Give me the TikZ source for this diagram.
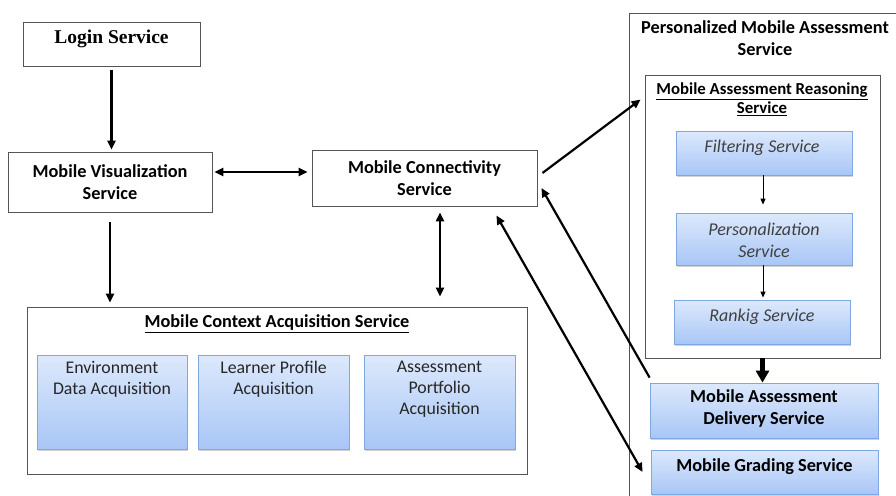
\documentclass[tikz,border=0pt]{standalone}
\usepackage{fontspec}
\setmainfont{Carlito}
\newfontfamily\serifb{Liberation Serif}
\usetikzlibrary{arrows.meta,shadows}
\definecolor{bluetop}{HTML}{DDE9FC}
\definecolor{bluebot}{HTML}{A8C6F6}
\definecolor{blueline}{HTML}{7FA7E0}
\definecolor{boxline}{HTML}{555555}
\begin{document}
\begin{tikzpicture}[x=1pt,y=-1pt,
  whitebox/.style={draw=boxline,line width=0.9pt,fill=white,inner sep=0pt,align=center,font=\fontsize{18.3}{22}\selectfont\bfseries},
  frame/.style={draw=boxline,line width=0.9pt,inner sep=0pt},
  bluebox/.style={draw=blueline,line width=0.8pt,top color=bluetop,bottom color=bluebot,inner sep=0pt,
     drop shadow={shadow xshift=1.2pt,shadow yshift=-1.5pt,opacity=0.35}},
  bluetxt/.style={align=center,inner sep=0pt,font=\fontsize{17.8}{21}\selectfont,text=black!85},
  italtxt/.style={align=center,inner sep=0pt,font=\fontsize{18}{22}\selectfont\itshape,text=black!75},
  boldtxt/.style={align=center,inner sep=0pt,font=\fontsize{18.3}{22}\selectfont\bfseries},
  thick arrow/.style={line width=2.2pt,-{Triangle[width=8pt,length=9pt]}},
  both arrow/.style={line width=2.2pt,{Triangle[width=8pt,length=9pt]}-{Triangle[width=8pt,length=9pt]}},
  thin arrow/.style={line width=1pt,-{Triangle[width=5pt,length=6pt]}}]
\useasboundingbox (0,0) rectangle (896,495);
\fill[white] (0,0) rectangle (896,495);

% left boxes
\node[whitebox,minimum width=177pt,minimum height=44pt] (login) at (111.5,44) {};
\node[font=\fontsize{19.5}{22}\selectfont\serifb\bfseries,inner sep=0pt] (logint) at (111.5,39) {Login Service};
\node[whitebox,minimum width=204pt,minimum height=60pt] (vis) at (110,182) {Mobile Visualization\\Service};
\node[whitebox,minimum width=225pt,minimum height=56pt] (conn) at (424.5,178) {Mobile Connectivity\\Service};

% context acquisition
\node[frame,minimum width=500pt,minimum height=167pt] (ctx) at (277,390.5) {};
\node[boldtxt,anchor=center] (ctxt) at (277,324) {\underline{Mobile Context Acquisition Service}};
\node[bluebox,minimum width=150pt,minimum height=94pt] (env) at (112,402) {};
\node[bluetxt,anchor=north] (envt) at (112,361) {Environment\\Data Acquisition};
\node[bluebox,minimum width=151pt,minimum height=94pt] (lrn) at (273.5,402) {};
\node[bluetxt,anchor=north] (lrnt) at (273.5,361) {Learner Profile\\Acquisition};
\node[bluebox,minimum width=151pt,minimum height=94pt] (asp) at (439.5,402) {};
\node[bluetxt,anchor=north] (aspt) at (439.5,361) {Assessment\\Portfolio\\Acquisition};

% personalized mobile assessment
\node[frame,anchor=north west,minimum width=290pt,minimum height=500pt] (pmas) at (629,13) {};
\node[boldtxt] (pmast) at (765,38.5) {Personalized Mobile Assessment\\Service};
\node[frame,minimum width=235pt,minimum height=283pt] (reason) at (762.5,216.5) {};
\node[align=center,inner sep=0pt,font=\fontsize{16.8}{19}\selectfont\bfseries] (reasont) at (762,99.5) {\underline{Mobile Assessment Reasoning}\\\underline{Service}};
\node[bluebox,minimum width=176pt,minimum height=44pt] (filt) at (764,153) {};
\node[italtxt] (filtt) at (762,148) {Filtering Service};
\node[bluebox,minimum width=176pt,minimum height=52pt] (pers) at (764,239) {};
\node[italtxt] (perst) at (764,240) {Personalization\\Service};
\node[bluebox,minimum width=176pt,minimum height=44pt] (rank) at (762,322) {};
\node[italtxt] (rankt) at (762,317) {Rankig Service};
\node[bluebox,minimum width=228pt,minimum height=55pt] (deliv) at (764,410.5) {};
\node[boldtxt] (delivt) at (764,409) {Mobile Assessment\\Delivery Service};
\node[bluebox,minimum width=227pt,minimum height=44pt] (grade) at (764.5,472) {};
\node[boldtxt] (gradet) at (764.5,467) {Mobile Grading Service};

% connectors
\draw[thick arrow,shorten <=4pt,shorten >=2pt] (login.south) -- (login.south |- vis.north);
\draw[both arrow,shorten <=2pt,shorten >=4pt] ([yshift=10pt]vis.east) -- ([yshift=6pt]conn.west);
\draw[thick arrow,shorten <=10pt,shorten >=4pt] (vis.south) -- (vis.south |- ctx.north);
\draw[both arrow,shorten <=6pt,shorten >=10pt] ([xshift=15.5pt]conn.south) -- ([xshift=15.5pt]conn.south |- ctx.north);
\draw[thick arrow] ([xshift=5pt,yshift=5pt]conn.east) -- ([xshift=-4pt,yshift=-25pt]reason.north west);
\draw[thick arrow] ([yshift=5pt]deliv.north west) -- ([xshift=4pt,yshift=-10pt]conn.east);
\draw[both arrow] ([xshift=-8pt]grade.west) -- ([xshift=-41pt,yshift=-9pt]conn.south east);
\draw[thin arrow,shorten >=1pt] ([xshift=-1pt]filt.south) -- ([xshift=-1pt,yshift=7pt]pers.north);
\draw[thin arrow,shorten >=2pt] ([xshift=-1pt]pers.south) -- ([xshift=-1pt]pers.south |- rank.north);
\draw[line width=4.5pt,-{Triangle[width=13pt,length=12pt]}] (reason.south) -- (reason.south |- deliv.north);
\end{tikzpicture}
\end{document}
